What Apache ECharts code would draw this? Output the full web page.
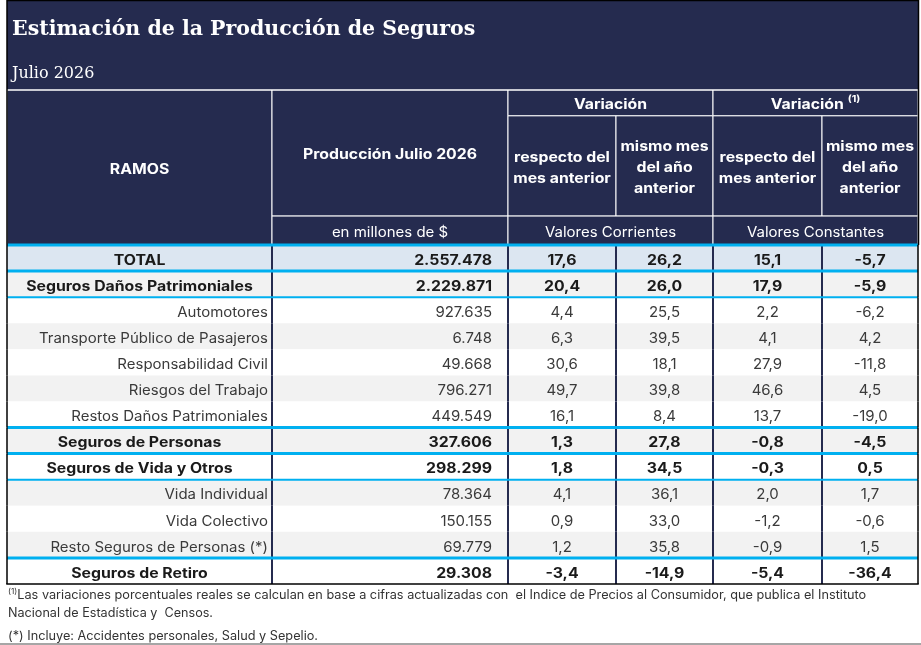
<!DOCTYPE html>
<html lang="es">
<head>
<meta charset="UTF-8">
<title>Estimación de la Producción de Seguros</title>
<script src="https://cdn.jsdelivr.net/npm/echarts@6.0.0/dist/echarts.min.js"></script>
<style>
    html, body { margin: 0; padding: 0; background: #fff; }
    #main { width: 921px; height: 645px; }
</style>
</head>
<body>
<div id="main"></div>
<script>
    // datos de la tabla
    var ramos = ['TOTAL', 'Seguros Daños Patrimoniales', 'Automotores', 'Transporte Público de Pasajeros',
        'Responsabilidad Civil', 'Riesgos del Trabajo', 'Restos Daños Patrimoniales', 'Seguros de Personas',
        'Seguros de Vida y Otros', 'Vida Individual', 'Vida Colectivo', 'Resto Seguros de Personas (*)',
        'Seguros de Retiro'];
    var produccion = [2557478, 2229871, 927635, 6748, 49668, 796271, 449549, 327606, 298299, 78364, 150155, 69779, 29308];
    var varMesCorr = [17.6, 20.4, 4.4, 6.3, 30.6, 49.7, 16.1, 1.3, 1.8, 4.1, 0.9, 1.2, -3.4];
    var varAnioCorr = [26.2, 26.0, 25.5, 39.5, 18.1, 39.8, 8.4, 27.8, 34.5, 36.1, 33.0, 35.8, -14.9];
    var varMesConst = [15.1, 17.9, 2.2, 4.1, 27.9, 46.6, 13.7, -0.8, -0.3, 2.0, -1.2, -0.9, -5.4];
    var varAnioConst = [-5.7, -5.9, -6.2, 4.2, -11.8, 4.5, -19.0, -4.5, 0.5, 1.7, -0.6, 1.5, -36.4];
    var subtotales = [true, true, false, false, false, false, false, true, true, false, false, false, true];

    var encabezados = ['RAMOS', 'Producción Julio 2026', 'en millones de $', 'Variación', 'Variación',
        'respecto del\nmes anterior', 'mismo mes\ndel año\nanterior',
        'respecto del\nmes anterior', 'mismo mes\ndel año\nanterior',
        'Valores Corrientes', 'Valores Constantes'];
    var titulo = 'Estimación de la Producción de Seguros';
    var periodo = 'Julio 2026';
    var notas = [
        'Las variaciones porcentuales reales se calculan en base a cifras actualizadas con  el Indice de Precios al Consumidor, que publica el Instituto',
        'Nacional de Estadística y  Censos.',
        '(*) Incluye: Accidentes personales, Salud y Sepelio.'
    ];

    // diseño
    var colEdges = [0, 265, 501, 609, 706, 815, 911];
    // [col desde, col hasta, fila desde, fila hasta, negrita, superindice]
    var headLayout = [
        [0, 1, 0, 6, true], [1, 2, 0, 4.88, true], [1, 2, 4.88, 6, false],
        [2, 4, 0, 1, true], [4, 6, 0, 1, true, true],
        [2, 3, 1, 4.88, true], [3, 4, 1, 4.88, true], [4, 5, 1, 4.88, true], [5, 6, 1, 4.88, true],
        [2, 4, 4.88, 6, false], [4, 6, 4.88, 6, false]
    ];
    var rowFill = ['#dce6f1', '#f2f2f2', '#ffffff', '#f2f2f2', '#ffffff', '#f2f2f2', '#ffffff',
        '#f2f2f2', '#ffffff', '#f2f2f2', '#ffffff', '#f2f2f2', '#ffffff'];
    var ruleBelow = { 0: 3, 1: 2, 6: 3, 7: 3, 8: 2, 11: 3 };
    var NAVY = '#252b4f';
    var BLUE = '#00b0f0';
    var FONT = 'Inter, "Open Sans", sans-serif';
    var STRETCH_BOLD = 1.13, STRETCH_NORMAL = 1.07;

    function fmtMiles(v) {
        return String(v).replace(/\B(?=(\d{3})+(?!\d))/g, '.');
    }
    function fmtPct(v) {
        return v.toFixed(1).replace('.', ',');
    }

    function renderHead(params, api) {
        var k = api.value(0);
        var L = headLayout[k];
        var p0 = api.coord([colEdges[L[0]], L[2]]);
        var p1 = api.coord([colEdges[L[1]], L[3]]);
        var cx = (p0[0] + p1[0]) / 2, cy = (p0[1] + p1[1]) / 2 + 2;
        var weight = L[4] ? 'bold' : 'normal';
        var txt = L[5] ? '{b|' + encabezados[k] + '} {s|(1)}' : encabezados[k];
        return {
            type: 'group',
            children: [{
                type: 'rect',
                shape: { x: p0[0], y: p0[1], width: p1[0] - p0[0], height: p1[1] - p0[1] },
                style: { fill: NAVY, stroke: '#ffffff', lineWidth: 1 }
            }, {
                type: 'text', x: cx, y: cy,
                scaleX: L[4] ? STRETCH_BOLD : STRETCH_NORMAL,
                style: {
                    text: txt, fill: '#ffffff', align: 'center', verticalAlign: 'middle',
                    fontFamily: FONT, fontSize: 14, fontWeight: weight, lineHeight: 21,
                    rich: {
                        b: { fontFamily: FONT, fontSize: 14, fontWeight: 'bold', fill: '#ffffff' },
                        s: { fontFamily: FONT, fontSize: 9.5, fontWeight: 'bold', fill: '#ffffff', verticalAlign: 'top', padding: [0, 0, 8, 0] }
                    }
                }
            }]
        };
    }

    function renderBody(params, api) {
        var i = api.value(1);
        var h = api.size([0, 1])[1];
        var top = api.coord([0, i])[1] - h / 2;
        var cy = top + h / 2 + 2.5;
        var xs = colEdges.map(function (e) { return api.coord([e, i])[0]; });
        var bold = subtotales[i];
        var color = bold ? '#1a1a1a' : '#3a3a3a';
        var weight = bold ? 'bold' : 'normal';
        function cellText(x, text, align) {
            return {
                type: 'text', x: x, y: cy, z2: 20,
                scaleX: bold ? STRETCH_BOLD : STRETCH_NORMAL,
                style: {
                    text: text, fill: color, align: align, verticalAlign: 'middle',
                    fontFamily: FONT, fontSize: 14, fontWeight: weight
                }
            };
        }
        var children = [{
            type: 'rect', z2: 0,
            shape: { x: xs[0], y: top, width: xs[6] - xs[0], height: h },
            style: { fill: rowFill[i] }
        }];
        children.push(bold ? cellText((xs[0] + xs[1]) / 2, ramos[i], 'center')
            : cellText(xs[1] - 4, ramos[i], 'right'));
        children.push(cellText(xs[2] - 16, fmtMiles(produccion[i]), 'right'));
        [varMesCorr, varAnioCorr, varMesConst, varAnioConst].forEach(function (arr, k) {
            children.push(cellText((xs[k + 2] + xs[k + 3]) / 2, fmtPct(arr[i]), 'center'));
        });
        for (var k = 1; k < 6; k++) {
            children.push({
                type: 'line', z2: 5,
                shape: { x1: xs[k], y1: top, x2: xs[k], y2: top + h },
                style: { stroke: NAVY, lineWidth: 2 }
            });
        }
        [xs[0], xs[6]].forEach(function (x) {
            children.push({
                type: 'line', z2: 12,
                shape: { x1: x, y1: top, x2: x, y2: top + h },
                style: { stroke: '#000000', lineWidth: 1.5 }
            });
        });
        if (i === 0) {
            children.push({
                type: 'line', z2: 10,
                shape: { x1: xs[0], y1: top, x2: xs[6], y2: top },
                style: { stroke: BLUE, lineWidth: 3 }
            });
        }
        if (ruleBelow[i]) {
            children.push({
                type: 'line', z2: 10,
                shape: { x1: xs[0], y1: top + h, x2: xs[6], y2: top + h },
                style: { stroke: BLUE, lineWidth: ruleBelow[i] }
            });
        }
        if (i === ramos.length - 1) {
            children.push({
                type: 'line', z2: 12,
                shape: { x1: xs[0] - 0.75, y1: top + h, x2: xs[6] + 0.75, y2: top + h },
                style: { stroke: '#000000', lineWidth: 1.5 }
            });
        }
        return { type: 'group', children: children };
    }

    // ajuste horizontal de las notas al ancho del original
    var notaAnchos = [849, 205, 310];
    var ctx = document.createElement('canvas').getContext('2d');
    ctx.font = '12.5px ' + FONT;
    var notaEscala = notas.map(function (t, k) {
        return notaAnchos[k] / ctx.measureText(t).width;
    });

    var myChart = echarts.init(document.getElementById('main'));

    var option = {
        animation: false,
        backgroundColor: '#ffffff',
        title: [{
            text: titulo, left: 12, top: 19, padding: 0,
            textStyle: { color: '#ffffff', fontFamily: 'DejaVu Serif', fontSize: 20.5, fontWeight: 'bold' }
        }, {
            text: periodo, left: 12, top: 66, padding: 0,
            textStyle: { color: '#ffffff', fontFamily: 'DejaVu Serif', fontSize: 16, fontWeight: 'normal' }
        }],
        graphic: [{
            type: 'rect', z: -10,
            shape: { x: 7, y: 0, width: 912, height: 245 },
            style: { fill: NAVY }
        }, {
            type: 'line', z: 10,
            shape: { x1: 7, y1: 90, x2: 919, y2: 90 },
            style: { stroke: '#ffffff', lineWidth: 1 }
        }, {
            type: 'polyline', z: 20,
            shape: { points: [[7, 245], [7, 0.5], [918.5, 0.5], [918.5, 245]] },
            style: { stroke: '#000000', lineWidth: 1.5, fill: null }
        }, {
            type: 'text', left: 8, top: 588, scaleX: notaEscala[0],
            style: {
                text: '{s|(1)}' + notas[0], fill: '#333333', fontFamily: FONT, fontSize: 12.5,
                rich: { s: { fontSize: 8, fill: '#333333', fontFamily: FONT, verticalAlign: 'top', padding: [0, 0, 6, 0] } }
            }
        }, {
            type: 'text', left: 8, top: 607, scaleX: notaEscala[1],
            style: { text: notas[1], fill: '#333333', fontFamily: FONT, fontSize: 12.5 }
        }, {
            type: 'text', left: 8, top: 630, scaleX: notaEscala[2],
            style: { text: notas[2], fill: '#333333', fontFamily: FONT, fontSize: 12.5 }
        }, {
            type: 'line',
            shape: { x1: 0, y1: 644, x2: 921, y2: 644 },
            style: { stroke: '#888888', lineWidth: 1.5 }
        }],
        grid: [
            { left: 7, top: 90, width: 911, height: 155 },
            { left: 7, top: 245, width: 911, height: 339 }
        ],
        xAxis: [
            { type: 'value', gridIndex: 0, min: 0, max: 911, show: false },
            { type: 'value', gridIndex: 1, min: 0, max: 911, show: false }
        ],
        yAxis: [
            { type: 'value', gridIndex: 0, min: 0, max: 6, inverse: true, show: false },
            { type: 'category', gridIndex: 1, data: ramos, inverse: true, show: false }
        ],
        series: [{
            type: 'custom', name: 'encabezado',
            xAxisIndex: 0, yAxisIndex: 0,
            renderItem: renderHead,
            encode: { x: 0, y: 1 },
            data: encabezados.map(function (t, k) { return [k, 0]; }),
            silent: true
        }, {
            type: 'custom', name: 'ramos',
            xAxisIndex: 1, yAxisIndex: 1,
            renderItem: renderBody,
            encode: { x: 0, y: 1 },
            data: ramos.map(function (r, i) { return [0, i]; }),
            silent: true
        }]
    };

    option && myChart.setOption(option);
</script>
</body>
</html>
